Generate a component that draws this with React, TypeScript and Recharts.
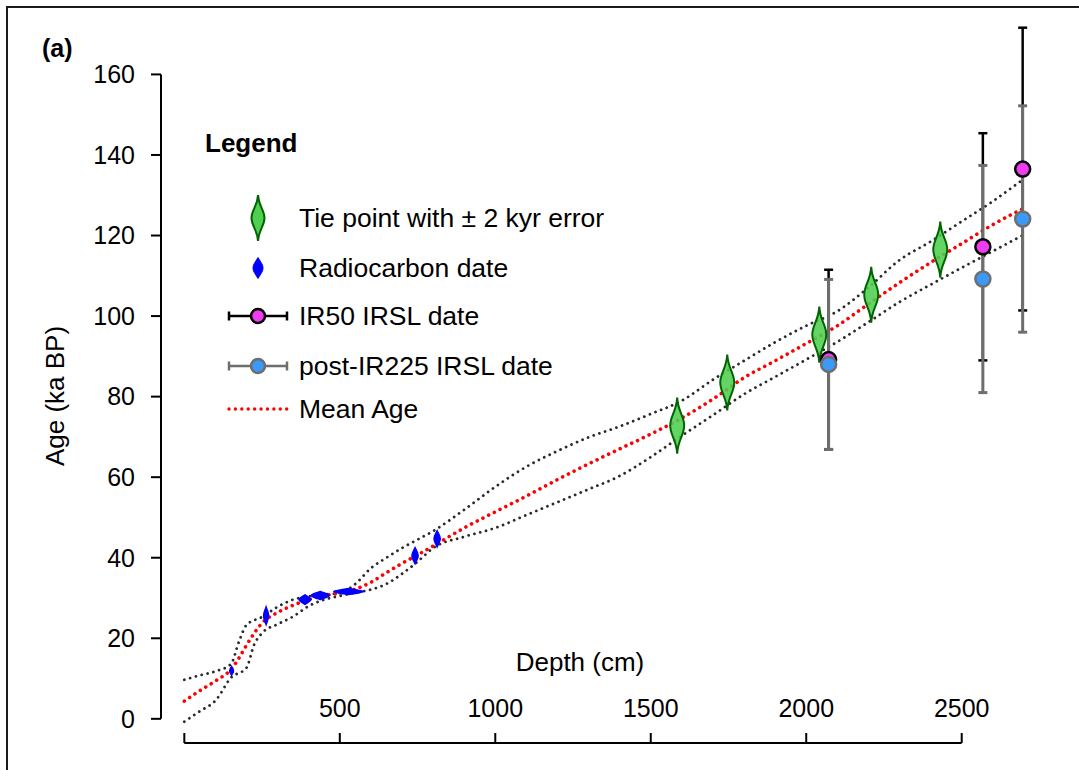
import {
    ComposedChart,
    ErrorBar,
    Label,
    Legend,
    Line,
    ReferenceLine,
    Scatter,
    XAxis,
    YAxis
} from 'recharts';

// depth (cm) / age (ka BP)
const meanAge = [
    [0, 4.4], [50, 7.0], [100, 9.4], [150, 12.3], [175, 15.0], [200, 18.3], [225, 21.3], [250, 23.8],
    [300, 26.4], [350, 28.2], [400, 29.6], [450, 30.6], [500, 31.2], [550, 32.2], [600, 33.9],
    [650, 36.3], [700, 38.6], [750, 40.7], [800, 42.9], [900, 47.4], [1000, 51.4], [1100, 55.3],
    [1200, 59.4], [1300, 63.3], [1400, 67.0], [1500, 70.7], [1600, 74.7], [1700, 79.4], [1800, 84.7],
    [1900, 88.9], [2000, 93.2], [2100, 97.6], [2200, 103.0], [2300, 108.3], [2400, 113.3],
    [2500, 118.0], [2600, 122.7], [2695, 126.6]
].map(([depth, age]) => ({ depth, age }));

const upperBound = [
    [0, 9.7], [50, 10.8], [100, 11.8], [150, 13.6], [175, 19.0], [200, 23.3], [250, 25.3],
    [300, 27.8], [350, 29.6], [400, 30.4], [450, 30.9], [500, 31.2], [550, 33.5], [600, 37.4],
    [650, 40.0], [700, 42.4], [750, 44.5], [800, 46.6], [900, 51.9], [1000, 57.6], [1100, 62.6],
    [1200, 66.5], [1300, 69.9], [1400, 72.6], [1500, 75.7], [1600, 79.0], [1700, 84.2], [1800, 88.9],
    [1900, 93.5], [2000, 97.6], [2100, 101.2], [2200, 107.1], [2300, 113.9], [2400, 118.5],
    [2500, 123.5], [2600, 128.5], [2695, 133.8]
].map(([depth, age]) => ({ depth, age }));

const lowerBound = [
    [0, -0.7], [50, 1.9], [100, 4.5], [150, 10.2], [200, 12.7], [225, 18.5], [250, 21.3],
    [300, 23.5], [350, 25.4], [400, 28.0], [450, 29.6], [500, 30.5], [550, 31.3], [600, 32.1],
    [650, 33.5], [700, 36.0], [750, 39.0], [800, 42.4], [900, 45.2], [1000, 47.4], [1100, 50.6],
    [1200, 53.8], [1300, 57.0], [1400, 60.3], [1500, 65.0], [1600, 70.3], [1700, 75.4], [1800, 80.6],
    [1900, 84.9], [2000, 89.2], [2100, 93.6], [2200, 98.5], [2300, 103.5], [2400, 107.8],
    [2500, 112.0], [2600, 116.1], [2695, 120.0]
].map(([depth, age]) => ({ depth, age }));

const tiePoints = [
    { depth: 1585, age: 72.8 },
    { depth: 1746, age: 83.5 },
    { depth: 2042, age: 95.4 },
    { depth: 2209, age: 105.3 },
    { depth: 2431, age: 116.5 }
];

// depthErr in cm, ageErr in ka
const radiocarbon = [
    { depth: 152, age: 11.9, depthErr: 6, ageErr: 1.1 },
    { depth: 263, age: 25.6, depthErr: 8, ageErr: 2.2 },
    { depth: 388, age: 29.6, depthErr: 19, ageErr: 1.2 },
    { depth: 437, age: 30.6, depthErr: 29, ageErr: 1.0 },
    { depth: 528, age: 31.6, depthErr: 48, ageErr: 0.75 },
    { depth: 742, age: 40.5, depthErr: 10, ageErr: 2.0 },
    { depth: 813, age: 44.7, depthErr: 10, ageErr: 2.0 }
];

const ir50 = [
    { depth: 2072, age: 89.2, err: 22.3 },
    { depth: 2568, age: 117.2, err: 28.2 },
    { depth: 2696, age: 136.5, err: 35.1 }
];

const postIr225 = [
    { depth: 2072, age: 88.0, err: 21.1 },
    { depth: 2568, age: 109.2, err: 28.2 },
    { depth: 2696, age: 124.1, err: 28.1 }
];

const xTicks = [0, 500, 1000, 1500, 2000, 2500];
const yTicks = [0, 20, 40, 60, 80, 100, 120, 140, 160];

const FONT = '"Liberation Sans", Arial, Helvetica, sans-serif';
const W = 1079;
const H = 770;
const X_DOMAIN = [-75, 2800];
const Y_DOMAIN = [-6, 175];
const MARGIN = { top: 14, right: 24, bottom: 0, left: 0 };
const Y_AXIS_W = 161;
const X_AXIS_H = 27;
const PLOT_BOTTOM = H - MARGIN.bottom - X_AXIS_H;
const PX_PER_CM = (W - MARGIN.right - MARGIN.left - Y_AXIS_W) / (X_DOMAIN[1] - X_DOMAIN[0]);
const PX_PER_KA = (PLOT_BOTTOM - MARGIN.top) / (Y_DOMAIN[1] - Y_DOMAIN[0]);

// spindle shape with thin tails (tie points) or a plain lens (radiocarbon)
function spindle(cx: number, cy: number, hw: number, hh: number, pinch: number) {
    const a = hw * pinch;
    return `M${cx},${cy - hh} C${cx + a},${cy - hh * 0.5} ${cx + hw},${cy - hh * 0.35} ${cx + hw},${cy}`
        + ` C${cx + hw},${cy + hh * 0.35} ${cx + a},${cy + hh * 0.5} ${cx},${cy + hh}`
        + ` C${cx - a},${cy + hh * 0.5} ${cx - hw},${cy + hh * 0.35} ${cx - hw},${cy}`
        + ` C${cx - hw},${cy - hh * 0.35} ${cx - a},${cy - hh * 0.5} ${cx},${cy - hh} Z`;
}

const TieShape = (p: any) => (
    <path d={spindle(p.cx, p.cy, 7, 28, 0.1)} fill="#4fcf4f" fillOpacity={0.88} stroke="#006400" strokeWidth={2} />
);

const RadioShape = (p: any) => (
    <path
        d={spindle(p.cx, p.cy, p.payload.depthErr * PX_PER_CM, p.payload.ageErr * PX_PER_KA, 0.6)}
        fill="#0000ff"
        stroke="#0000ff"
        strokeWidth={1.5}
    />
);

const Ir50Dot = (p: any) => <circle cx={p.cx} cy={p.cy} r={7.5} fill="#f03cf0" stroke="#000" strokeWidth={2.5} />;
const PostDot = (p: any) => <circle cx={p.cx} cy={p.cy} r={7.5} fill="#3a9afa" stroke="#6e6e6e" strokeWidth={2.5} />;
const NoDot = () => <g />;

const XTick = (p: any) => (
    <g>
        <line x1={p.x} x2={p.x} y1={PLOT_BOTTOM} y2={PLOT_BOTTOM - 10} stroke="#000" strokeWidth={2} />
        {p.payload.value !== 0 && (
            <text x={p.x} y={PLOT_BOTTOM - 26} textAnchor="middle" fontSize={25} fontFamily={FONT} fill="#000">
                {p.payload.value}
            </text>
        )}
    </g>
);

const legendRows = [
    { label: 'Tie point with ± 2 kyr error', y: 100, icon: 'tie' },
    { label: 'Radiocarbon date', y: 150, icon: 'radio' },
    { label: 'IR50 IRSL date', y: 198, icon: 'ir50' },
    { label: 'post-IR225 IRSL date', y: 248, icon: 'post' },
    { label: 'Mean Age', y: 291, icon: 'mean' }
];

function LegendIcon({ kind }: { kind: string }) {
    const c = 68;
    const m = 30;
    if (kind === 'tie') {
        return <path d={spindle(c, m, 6.5, 23, 0.1)} fill="#4fcf4f" stroke="#006400" strokeWidth={2} />;
    }
    if (kind === 'radio') {
        return <path d={spindle(c, m, 5, 10.5, 0.6)} fill="#0000ff" stroke="#0000ff" strokeWidth={1} />;
    }
    if (kind === 'mean') {
        return (
            <line x1={39} x2={98} y1={m} y2={m} stroke="#ff0000" strokeWidth={3.4}
                strokeDasharray="0.01 6.4" strokeLinecap="round" />
        );
    }
    const bar = kind === 'ir50' ? '#000' : '#6e6e6e';
    return (
        <g>
            <line x1={39} x2={97} y1={m} y2={m} stroke={bar} strokeWidth={2.5} />
            <line x1={39} x2={39} y1={m - 4.5} y2={m + 4.5} stroke={bar} strokeWidth={2.5} />
            <line x1={97} x2={97} y1={m - 4.5} y2={m + 4.5} stroke={bar} strokeWidth={2.5} />
            <circle cx={c} cy={m} r={7} fill={kind === 'ir50' ? '#f03cf0' : '#3a9afa'} stroke={bar} strokeWidth={2.5} />
        </g>
    );
}

const renderLegend = () => (
    <div style={{ position: 'relative', width: 440, height: 320, fontFamily: FONT, color: '#000' }}>
        <div style={{ position: 'absolute', left: 15, top: 10, fontSize: 26, lineHeight: '30px', fontWeight: 'bold' }}>
            Legend
        </div>
        {legendRows.map((r) => (
            <div key={r.label}>
                <svg width={110} height={60} style={{ position: 'absolute', left: 0, top: r.y - 30 }}>
                    <LegendIcon kind={r.icon} />
                </svg>
                <div style={{ position: 'absolute', left: 109, top: r.y - 15, fontSize: 26.5, lineHeight: '30px', whiteSpace: 'nowrap' }}>
                    {r.label}
                </div>
            </div>
        ))}
    </div>
);

export default function App() {
    return (
        <div style={{ position: 'absolute', left: 0, top: 0, width: W, height: H, background: '#fff', overflow: 'hidden' }}>
            <div style={{ position: 'absolute', left: 6, top: 6, right: -4, bottom: -4, borderTop: '2px solid #1a1a1a', borderLeft: '2px solid #1a1a1a' }} />
            <div style={{ position: 'absolute', left: 42, top: 34, fontFamily: FONT, fontSize: 25, fontWeight: 'bold' }}>(a)</div>
            <ComposedChart width={W} height={H} margin={MARGIN} style={{ fontFamily: FONT }}>
                <XAxis
                    type="number"
                    dataKey="depth"
                    domain={X_DOMAIN}
                    allowDataOverflow
                    ticks={xTicks}
                    interval={0}
                    height={X_AXIS_H}
                    axisLine={false}
                    tickLine={false}
                    tick={(p: any) => <XTick {...p} />}
                >
                    <Label
                        value="Depth (cm)"
                        content={() => (
                            <text x={580} y={671} textAnchor="middle" fontSize={26} fontFamily={FONT} fill="#000">
                                Depth (cm)
                            </text>
                        )}
                    />
                </XAxis>
                <YAxis
                    type="number"
                    dataKey="age"
                    domain={Y_DOMAIN}
                    allowDataOverflow
                    ticks={yTicks}
                    interval={0}
                    width={Y_AXIS_W}
                    axisLine={false}
                    tickLine={{ stroke: '#000', strokeWidth: 2 }}
                    tickSize={10}
                    tickMargin={16}
                    tick={{ fill: '#000', fontSize: 25, fontFamily: FONT }}
                >
                    <Label
                        value="Age (ka BP)"
                        content={() => (
                            <text transform="translate(64,396) rotate(-90)" textAnchor="middle" fontSize={26} fontFamily={FONT} fill="#000">
                                Age (ka BP)
                            </text>
                        )}
                    />
                </YAxis>
                <ReferenceLine segment={[{ x: X_DOMAIN[0], y: 0 }, { x: X_DOMAIN[0], y: 160 }]} stroke="#000" strokeWidth={2} ifOverflow="visible" />
                <ReferenceLine segment={[{ x: 0, y: Y_DOMAIN[0] }, { x: 2500, y: Y_DOMAIN[0] }]} stroke="#000" strokeWidth={2} ifOverflow="visible" />

                <Line data={upperBound} dataKey="age" type="monotone" stroke="#2a2a2a" strokeWidth={2.8}
                    strokeDasharray="0.01 6" strokeLinecap="round" dot={false} activeDot={false} isAnimationActive={false} />
                <Line data={lowerBound} dataKey="age" type="monotone" stroke="#2a2a2a" strokeWidth={2.8}
                    strokeDasharray="0.01 6" strokeLinecap="round" dot={false} activeDot={false} isAnimationActive={false} />
                <Line data={meanAge} dataKey="age" type="monotone" stroke="#ff0000" strokeWidth={3.6}
                    strokeDasharray="0.01 6.4" strokeLinecap="round" dot={false} activeDot={false} isAnimationActive={false} />

                <Scatter data={tiePoints} dataKey="age" shape={TieShape} isAnimationActive={false} />
                <Scatter data={radiocarbon} dataKey="age" shape={RadioShape} isAnimationActive={false} />

                <Scatter data={ir50} dataKey="age" shape={NoDot} isAnimationActive={false}>
                    <ErrorBar dataKey="err" direction="y" width={4.5} stroke="#000" strokeWidth={2.5} />
                </Scatter>
                <Scatter data={postIr225} dataKey="age" shape={NoDot} isAnimationActive={false}>
                    <ErrorBar dataKey="err" direction="y" width={4.5} stroke="#6e6e6e" strokeWidth={3} />
                </Scatter>
                <Scatter data={ir50} dataKey="age" shape={Ir50Dot} isAnimationActive={false} />
                <Scatter data={postIr225} dataKey="age" shape={PostDot} isAnimationActive={false} />

                <Legend
                    layout="vertical"
                    align="center"
                    verticalAlign="middle"
                    content={renderLegend}
                    wrapperStyle={{ left: 190, top: 118, width: 440, height: 320 }}
                />
            </ComposedChart>
        </div>
    );
}
